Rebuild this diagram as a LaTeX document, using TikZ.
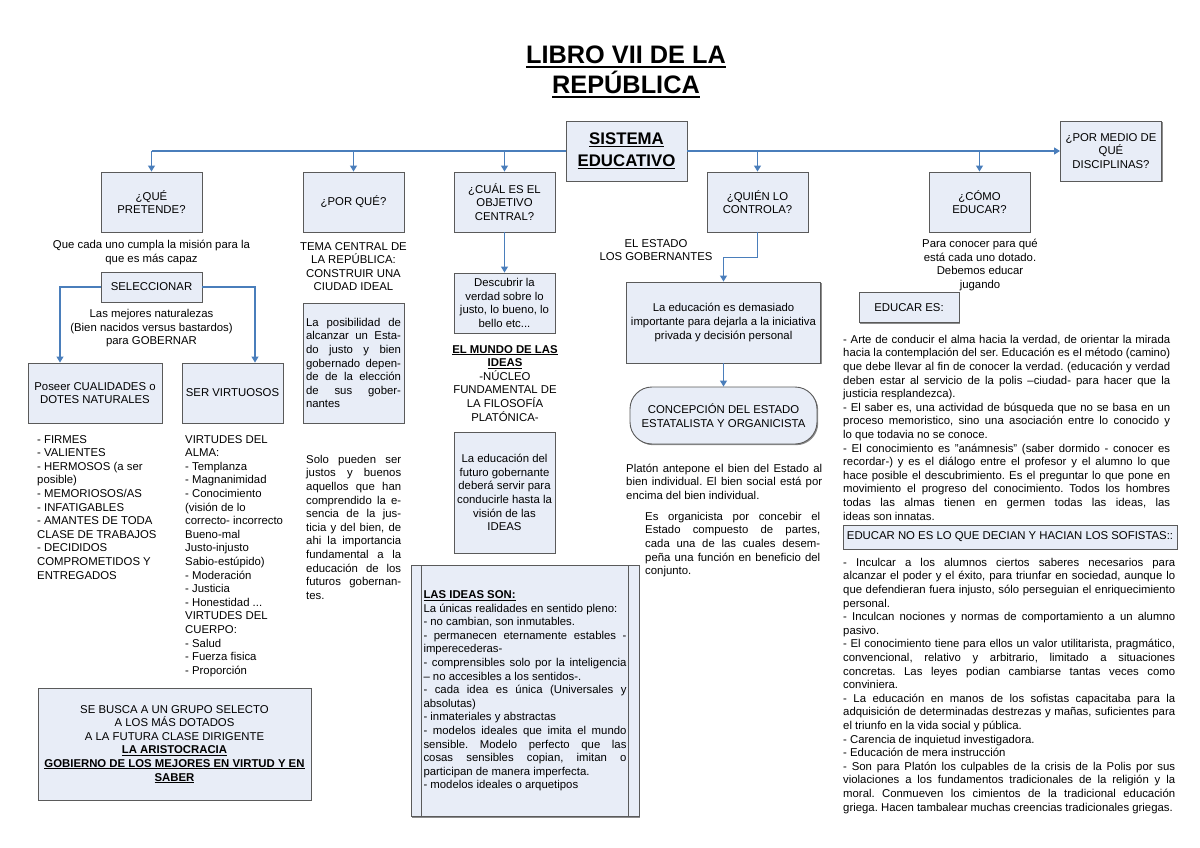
\documentclass[tikz,border=0pt]{standalone}
\usepackage{fontspec}
\setmainfont{Liberation Sans}
\usetikzlibrary{arrows.meta,shadows}

\definecolor{boxfill}{RGB}{232,237,247}
\definecolor{boxline}{RGB}{90,90,90}
\definecolor{linkblue}{RGB}{74,126,187}

\newcommand{\fbody}{\fontsize{11.36}{13.6}\selectfont}
\newcommand{\fhead}{\fontsize{16.8}{22}\selectfont\bfseries}
\newcommand{\ftitle}{\fontsize{25.3}{30}\selectfont\bfseries}
\newcommand{\ulbox}[1]{\setbox0\hbox{#1}\rlap{\rule[-0.16em]{\wd0}{0.075em}}\box0}
\newcommand{\tstrut}{\rule{0pt}{11pt}}
\hyphenpenalty=10000
\exhyphenpenalty=10000
\frenchspacing

\begin{document}
\begin{tikzpicture}[x=1pt,y=-1pt,
    qbox/.style={draw=boxline, fill=boxfill, line width=0.9pt, align=center, font=\fbody, inner sep=3pt,
        drop shadow={shadow xshift=1.2pt, shadow yshift=-1.2pt, fill=black!45, opacity=1}},
    qsize/.style={minimum width=101pt, minimum height=60pt},
    note/.style={inner sep=0pt, font=\fbody, execute at begin node=\tstrut},
    link/.style={draw=linkblue, line width=1.1pt},
    linkarr/.style={link, -{Triangle[width=7pt,length=6pt]}}]
    \useasboundingbox (0,0) rectangle (1200,848);

    % Title
    \node[font=\ftitle, align=center, inner sep=0pt] (title) at (626,72) {\ulbox{LIBRO VII DE LA}\\\ulbox{REPÚBLICA}};

    % Centre and questions
    \node[qbox, minimum width=121pt, minimum height=60pt, font=\fhead] (sistema) at (626.5,151) {\ulbox{SISTEMA}\\\ulbox{EDUCATIVO}};
    \node[qbox, qsize] (disciplinas) at (1111,151) {¿POR MEDIO DE\\QUÉ\\DISCIPLINAS?};
    \node[qbox, qsize] (pretende) at (151.5,202) {¿QUÉ\\PRETENDE?};
    \node[qbox, qsize] (porque) at (353.5,202) {¿POR QUÉ?};
    \node[qbox, qsize] (objetivo) at (504.5,202) {¿CUÁL ES EL\\OBJETIVO\\CENTRAL?};
    \node[qbox, qsize] (controla) at (757.5,202) {¿QUIÉN LO\\CONTROLA?};
    \node[qbox, qsize] (como) at (979.5,202) {¿CÓMO\\EDUCAR?};

    \draw[link] (pretende.north |- sistema.west) -- (sistema.west);
    \draw[linkarr] (sistema.east) -- (disciplinas.west);
    \foreach \n in {pretende,porque,objetivo,controla,como}
        \draw[linkarr] (\n.north |- sistema.west) -- (\n.north);

    % What for
    \node[note, align=center, anchor=north] (mision) at (151.5,240) {Que cada uno cumpla la misión para la\\que es más capaz};
    \node[qbox, minimum width=101pt, minimum height=30pt] (selec) at (151.5,287) {SELECCIONAR};
    \node[note, align=center, anchor=north] (naturalezas) at (151.5,309) {Las mejores naturalezas\\(Bien nacidos versus bastardos)\\para GOBERNAR};
    \node[qbox, minimum width=134pt, minimum height=60pt] (cualidades) at (95,393) {Poseer CUALIDADES o\\DOTES NATURALES};
    \node[qbox, qsize] (virtuosos) at (232.5,393) {SER VIRTUOSOS};
    \coordinate (selL) at (60,287);
    \coordinate (selR) at (255,287);
    \draw[linkarr] (selec.west) -- (selL) -- (selL |- cualidades.north);
    \draw[linkarr] (selec.east) -- (selR) -- (selR |- virtuosos.north);

    \node[note, align=left, anchor=north west] (dotes) at (37,435) {- FIRMES\\- VALIENTES\\- HERMOSOS (a ser\\posible)\\- MEMORIOSOS/AS\\- INFATIGABLES\\- AMANTES DE TODA\\CLASE DE TRABAJOS\\- DECIDIDOS\\COMPROMETIDOS Y\\ENTREGADOS};
    \node[note, align=left, anchor=north west] (virtudes) at (185,435) {VIRTUDES DEL\\ALMA:\\- Templanza\\- Magnanimidad\\- Conocimiento\\(visión de lo\\correcto- incorrecto\\Bueno-mal\\Justo-injusto\\Sabio-estúpido)\\- Moderación\\- Justicia\\- Honestidad ...\\VIRTUDES DEL\\CUERPO:\\- Salud\\- Fuerza fisica\\- Proporción};

    \node[qbox, minimum width=273pt, minimum height=112pt] (selecto) at (174.5,744) {SE BUSCA A UN GRUPO SELECTO\\A LOS MÁS DOTADOS\\A LA FUTURA CLASE DIRIGENTE\\\ulbox{\textbf{LA ARISTOCRACIA}}\\\ulbox{\textbf{GOBIERNO DE LOS MEJORES EN VIRTUD Y EN}}\\\ulbox{\textbf{SABER}}};

    % Why
    \node[note, align=center, anchor=north] (tema) at (353.5,242) {TEMA CENTRAL DE\\LA REPÚBLICA:\\CONSTRUIR UNA\\CIUDAD IDEAL};
    \node[qbox, text width=95pt, align=justify, minimum height=120pt] (posibilidad) at (353.5,363) {La posibilidad de\linebreak alcanzar un Esta-\linebreak do justo y bien\linebreak gobernado depen-\linebreak de de la elección\linebreak de sus gober-\linebreak nantes};
    \node[note, text width=95pt, align=justify, anchor=north west] (justos) at (306,452) {Solo pueden ser\linebreak justos y buenos\linebreak aquellos que han\linebreak comprendido la e-\linebreak sencia de la jus-\linebreak ticia y del bien, de\linebreak ahi la importancia\linebreak fundamental a la\linebreak educación de los\linebreak futuros gobernan-\linebreak tes.};

    % Central aim
    \node[qbox, qsize] (descubrir) at (504.5,303) {Descubrir la\\verdad sobre lo\\justo, lo bueno, lo\\bello etc...};
    \draw[linkarr] (objetivo.south) -- (descubrir.north);
    \node[note, align=center, anchor=north] (mundo) at (505,345) {\ulbox{\textbf{EL MUNDO DE LAS}}\\\ulbox{\textbf{IDEAS}}\\-NÚCLEO\\FUNDAMENTAL DE\\LA FILOSOFÍA\\PLATÓNICA-};
    \node[qbox, minimum width=101pt, minimum height=121pt] (futuro) at (504.5,492.5) {La educación del\\futuro gobernante\\deberá servir para\\conducirle hasta la\\visión de las\\IDEAS};
    \node[qbox, minimum width=228pt, minimum height=251pt, text width=203pt, align=justify] (ideas) at (525,691) {\ulbox{\textbf{LAS IDEAS SON:}}\\La únicas realidades en sentido pleno:\\- no cambian, son inmutables.\\- permanecen eternamente estables -\linebreak imperecederas-\\- comprensibles solo por la inteligencia\linebreak – no accesibles a los sentidos-.\\- cada idea es única (Universales y\linebreak absolutas)\\- inmateriales y abstractas\\- modelos ideales que imita el mundo\linebreak sensible. Modelo perfecto que las\linebreak cosas sensibles copian, imitan o\linebreak participan de manera imperfecta.\\- modelos ideales o arquetipos};
    \draw[boxline, line width=0.9pt] ([xshift=11pt]ideas.north west) -- ([xshift=11pt]ideas.south west);
    \draw[boxline, line width=0.9pt] ([xshift=-11pt]ideas.north east) -- ([xshift=-11pt]ideas.south east);

    % Who controls it
    \node[note, align=center, anchor=north] (estado) at (656,239) {EL ESTADO\\LOS GOBERNANTES};
    \node[qbox, minimum width=194pt, minimum height=81pt] (demasiado) at (723.5,322.5) {La educación es demasiado\\importante para dejarla a la iniciativa\\privada y decisión personal};
    \node[qbox, rounded corners=22pt, minimum width=187pt, minimum height=57pt] (concepcion) at (723.5,415.5) {CONCEPCIÓN DEL ESTADO\\ESTATALISTA Y ORGANICISTA};
    \draw[linkarr] (controla.south) -- ++(0,25) -| (demasiado.north);
    \draw[linkarr] (demasiado.south) -- (concepcion.north);
    \node[note, text width=196pt, align=justify, anchor=north west] (platon) at (626,461) {Platón antepone el bien del Estado al\linebreak bien individual. El bien social está por\linebreak encima del bien individual.};
    \node[note, text width=175pt, align=justify, anchor=north west] (organicista) at (645,509) {Es organicista por concebir el\linebreak Estado compuesto de partes,\linebreak cada una de las cuales desem-\linebreak peña una función en beneficio del\linebreak conjunto.};

    % How to educate
    \node[note, align=center, anchor=north] (jugando) at (980,239) {Para conocer para qué\\está cada uno dotado.\\Debemos educar\\jugando};
    \node[qbox, minimum width=100pt, minimum height=30pt] (educares) at (909,307.5) {EDUCAR ES:};
    \node[note, text width=327pt, align=justify, anchor=north west] (arte) at (843,332) {- Arte de conducir el alma hacia la verdad, de orientar la mirada\linebreak hacia la contemplación del ser. Educación es el método (camino)\linebreak que debe llevar al fin de conocer la verdad. (educación y verdad\linebreak deben estar al servicio de la polis –ciudad- para hacer que la\linebreak justicia resplandezca).\\- El saber es, una actividad de búsqueda que no se basa en un\linebreak proceso memoristico, sino una asociación entre lo conocido y\linebreak lo que todavia no se conoce.\\- El conocimiento es "anámnesis" (saber dormido - conocer es\linebreak recordar-) y es el diálogo entre el profesor y el alumno lo que\linebreak hace posible el descubrimiento. Es el preguntar lo que pone en\linebreak movimiento el progreso del conocimiento. Todos los hombres\linebreak todas las almas tienen en germen todas las ideas, las\linebreak ideas son innatas.};
    \node[qbox, minimum width=334pt, minimum height=24pt, inner sep=1pt] (sofistas) at (1010,537) {EDUCAR NO ES LO QUE DECIAN Y HACIAN LOS SOFISTAS::};
    \node[note, text width=332pt, align=justify, anchor=north west] (contra) at (843,555) {- Inculcar a los alumnos ciertos saberes necesarios para\linebreak alcanzar el poder y el éxito, para triunfar en sociedad, aunque lo\linebreak que defendieran fuera injusto, sólo perseguian el enriquecimiento\linebreak personal.\\- Inculcan nociones y normas de comportamiento a un alumno\linebreak pasivo.\\- El conocimiento tiene para ellos un valor utilitarista, pragmático,\linebreak convencional, relativo y arbitrario, limitado a situaciones\linebreak concretas. Las leyes podian cambiarse tantas veces como\linebreak conviniera.\\- La educación en manos de los sofistas capacitaba para la\linebreak adquisición de determinadas destrezas y mañas, suficientes para\linebreak el triunfo en la vida social y pública.\\- Carencia de inquietud investigadora.\\- Educación de mera instrucción\\- Son para Platón los culpables de la crisis de la Polis por sus\linebreak violaciones a los fundamentos tradicionales de la religión y la\linebreak moral. Conmueven los cimientos de la tradicional educación\linebreak griega. Hacen tambalear muchas creencias tradicionales griegas.};
\end{tikzpicture}
\end{document}
